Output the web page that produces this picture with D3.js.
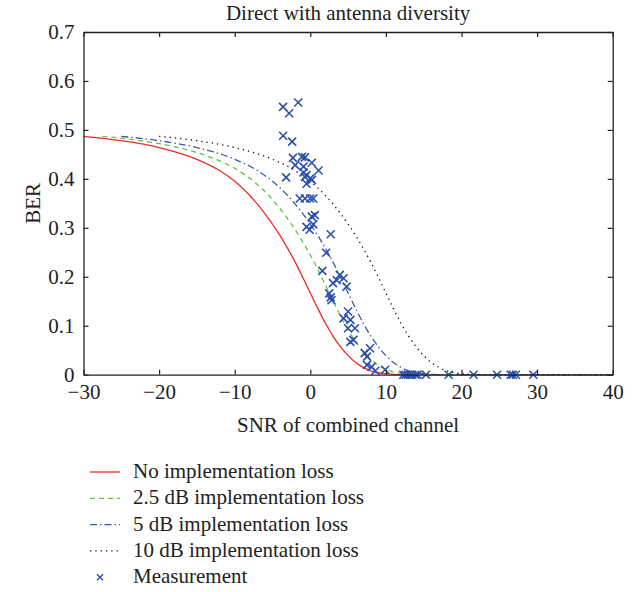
<!DOCTYPE html>
<html>
<head>
  <meta charset="utf-8">
  <title>Direct with antenna diversity</title>
  <script src="https://cdn.jsdelivr.net/npm/d3@7"></script>
  <style>
    body { margin: 0; background: #fff; }
    text { font-family: "Liberation Serif", "Times New Roman", serif; fill: #222; }
  </style>
</head>
<body>
  <div id="chart"></div>

  <script>
    // theory curves (SNR in dB, BER)
    var noLossSNR = [-30, -25, -20, -15, -12, -10, -8, -6, -4, -3, -2, -1, 0, 1, 2, 3, 4, 5, 6, 7, 8, 9, 10, 11, 12, 14, 40];
    var noLossBER = [0.487, 0.478, 0.464, 0.440, 0.417, 0.395, 0.366, 0.329, 0.284, 0.258, 0.230, 0.199, 0.167, 0.135, 0.105, 0.079, 0.057, 0.039, 0.025, 0.015, 0.008, 0.004, 0.002, 0.0008, 0.0003, 0, 0];

    var loss25SNR = [-27.5, -22.5, -17.5, -12.5, -9.5, -7.5, -5.5, -3.5, -1.5, -0.5, 0.5, 1.5, 2.5, 3.5, 4.5, 5.5, 6.5, 7.5, 8.5, 9.5, 10.5, 11.5, 12.5, 13.5, 14.5, 16.5, 40];
    var loss25BER = [0.487, 0.478, 0.464, 0.440, 0.417, 0.395, 0.366, 0.329, 0.284, 0.258, 0.230, 0.199, 0.167, 0.135, 0.105, 0.079, 0.057, 0.039, 0.025, 0.015, 0.008, 0.004, 0.002, 0.0008, 0.0003, 0, 0];

    var loss5SNR = [-25, -20, -15, -10, -7, -5, -3, -1, 1, 2, 3, 4, 5, 6, 7, 8, 9, 10, 11, 12, 13, 14, 15, 16, 17, 19, 40];
    var loss5BER = [0.487, 0.478, 0.464, 0.440, 0.417, 0.395, 0.366, 0.329, 0.284, 0.258, 0.230, 0.199, 0.167, 0.135, 0.105, 0.079, 0.057, 0.039, 0.025, 0.015, 0.008, 0.004, 0.002, 0.0008, 0.0003, 0, 0];

    var loss10SNR = [-20, -15, -10, -5, -2, 0, 2, 4, 6, 7, 8, 9, 10, 11, 12, 13, 14, 15, 16, 17, 18, 19, 20, 21, 22, 24, 40];
    var loss10BER = [0.487, 0.478, 0.464, 0.440, 0.417, 0.395, 0.366, 0.329, 0.284, 0.258, 0.230, 0.199, 0.167, 0.135, 0.105, 0.079, 0.057, 0.039, 0.025, 0.015, 0.008, 0.004, 0.002, 0.0008, 0.0003, 0, 0];

    // measured points
    var measSNR = [-1.6, -3.6, -2.8, -3.6, -2.4, -2.3, -1.1, -0.7, 0.2, -2.0, -0.9, 1.1, -0.9, -0.5, 0.0, -0.7, -3.2, 0.2, -0.5,
                   -1.4, -0.7, 0.0, 0.4, 0.2, 0.6, 0.4, -0.5, -0.1, 2.7, 2.1, 1.6, 3.9, 3.5, 4.4, 4.8, 3.0, 2.5, 2.7, 2.8,
                   5.0, 4.4, 5.3, 5.0, 5.9, 5.3, 5.7, 7.2, 7.9, 7.5, 7.5, 8.1, 8.6, 9.9,
                   12.3, 12.6, 12.9, 13.2, 13.5, 13.9, 14.2, 15.3, 18.3, 21.6, 24.7, 26.5, 26.8, 27.2, 29.5];
    var measBER = [0.556, 0.547, 0.534, 0.488, 0.476, 0.443, 0.445, 0.444, 0.433, 0.428, 0.425, 0.417, 0.413, 0.408, 0.401, 0.404, 0.403, 0.398, 0.390,
                   0.360, 0.360, 0.360, 0.360, 0.323, 0.326, 0.307, 0.302, 0.296, 0.287, 0.249, 0.212, 0.204, 0.193, 0.197, 0.180, 0.187, 0.166, 0.158, 0.152,
                   0.129, 0.115, 0.112, 0.095, 0.095, 0.067, 0.071, 0.044, 0.054, 0.037, 0.020, 0.016, 0.008, 0.010,
                   0, 0, 0, 0, 0, 0, 0, 0, 0, 0, 0, 0, 0, 0, 0];

    var xTicks = [-30, -20, -10, 0, 10, 20, 30, 40];
    var yTicks = [0, 0.1, 0.2, 0.3, 0.4, 0.5, 0.6, 0.7];
    var legendLabels = ["No implementation loss", "2.5 dB implementation loss", "5 dB implementation loss", "10 dB implementation loss", "Measurement"];

    var W = 632, H = 592;
    var margin = {top: 32, right: 19.3, bottom: 217.3, left: 83.5};

    var svg = d3.select("#chart")
      .append("svg")
        .attr("width", W)
        .attr("height", H);

    var x = d3.scaleLinear()
      .domain([-30, 40])
      .range([margin.left, W - margin.right]);

    var y = d3.scaleLinear()
      .domain([0, 0.7])
      .range([H - margin.bottom, margin.top]);

    svg.append("clipPath").attr("id", "plotclip")
      .append("rect")
        .attr("x", x(-30)).attr("y", y(0.7) - 2)
        .attr("width", x(40) - x(-30)).attr("height", y(0) - y(0.7) + 4);

    // curves
    var series = [
      {snr: noLossSNR, ber: noLossBER, color: "#ee2a2a", dash: null},
      {snr: loss25SNR, ber: loss25BER, color: "#66c43c", dash: "5,4"},
      {snr: loss5SNR, ber: loss5BER, color: "#3a5bab", dash: "7,3,1.5,3"},
      {snr: loss10SNR, ber: loss10BER, color: "#111", dash: "1.3,4"}
    ];

    var line = d3.line()
      .x(function(d) { return x(d[0]); })
      .y(function(d) { return y(d[1]); })
      .curve(d3.curveMonotoneX);

    var curves = svg.append("g").attr("clip-path", "url(#plotclip)");
    series.forEach(function(s) {
      curves.append("path")
        .datum(d3.zip(s.snr, s.ber))
        .attr("d", line)
        .attr("fill", "none")
        .attr("stroke", s.color)
        .attr("stroke-width", 1.3)
        .attr("stroke-dasharray", s.dash);
    });

    // measurement crosses
    var cross = function(cx, cy, r) {
      return "M" + (cx - r) + "," + (cy - r) + "L" + (cx + r) + "," + (cy + r) +
             "M" + (cx - r) + "," + (cy + r) + "L" + (cx + r) + "," + (cy - r);
    };
    svg.append("g")
      .selectAll("path")
      .data(d3.zip(measSNR, measBER))
      .enter()
      .append("path")
        .attr("d", function(d) { return cross(x(d[0]), y(d[1]), 4); })
        .attr("stroke", "#2b4faa")
        .attr("stroke-width", 1.6)
        .attr("fill", "none");

    // axes, ticks inside like matlab
    var yfmt = function(d) { return d === 0 ? "0" : d3.format(".1f")(d); };

    var axB = svg.append("g")
      .attr("transform", "translate(0," + y(0) + ")")
      .call(d3.axisBottom(x).tickValues(xTicks).tickSizeInner(-5).tickSizeOuter(0).tickPadding(9));
    var axT = svg.append("g")
      .attr("transform", "translate(0," + y(0.7) + ")")
      .call(d3.axisTop(x).tickValues(xTicks).tickSizeInner(-5).tickSizeOuter(0).tickFormat(""));
    var axL = svg.append("g")
      .attr("transform", "translate(" + x(-30) + ",0)")
      .call(d3.axisLeft(y).tickValues(yTicks).tickSizeInner(-5).tickSizeOuter(0).tickPadding(9).tickFormat(yfmt));
    var axR = svg.append("g")
      .attr("transform", "translate(" + x(40) + ",0)")
      .call(d3.axisRight(y).tickValues(yTicks).tickSizeInner(-5).tickSizeOuter(0).tickFormat(""));

    [axB, axT, axL, axR].forEach(function(a) {
      a.select(".domain").attr("stroke", "#222").attr("stroke-width", 1.3);
      a.selectAll(".tick line").attr("stroke", "#222").attr("stroke-width", 1.2);
      a.selectAll(".tick text")
        .style("font-family", "'Liberation Serif', serif")
        .style("font-size", "21px")
        .attr("fill", "#222");
    });

    // titles
    svg.append("text")
      .attr("x", (x(-30) + x(40)) / 2)
      .attr("y", 20)
      .attr("text-anchor", "middle")
      .style("font-size", "21px")
      .text("Direct with antenna diversity");

    svg.append("text")
      .attr("x", (x(-30) + x(40)) / 2)
      .attr("y", 432)
      .attr("text-anchor", "middle")
      .style("font-size", "21px")
      .text("SNR of combined channel");

    svg.append("text")
      .attr("transform", "translate(40," + ((y(0) + y(0.7)) / 2) + ") rotate(-90)")
      .attr("text-anchor", "middle")
      .style("font-size", "21px")
      .text("BER");

    // legend
    var legend = svg.append("g");
    legendLabels.forEach(function(lab, i) {
      var by = 478 + i * 26.3;
      if (i < 4) {
        legend.append("line")
          .attr("x1", 90).attr("x2", 120)
          .attr("y1", by - 6).attr("y2", by - 6)
          .attr("stroke", series[i].color)
          .attr("stroke-width", 1.3)
          .attr("stroke-dasharray", series[i].dash);
      } else {
        legend.append("path")
          .attr("d", cross(100, by - 6, 3))
          .attr("stroke", "#2b4faa")
          .attr("stroke-width", 1.4)
          .attr("fill", "none");
      }
      legend.append("text")
        .attr("x", 133)
        .attr("y", by)
        .style("font-size", "21px")
        .text(lab);
    });
  </script>
</body>
</html>
